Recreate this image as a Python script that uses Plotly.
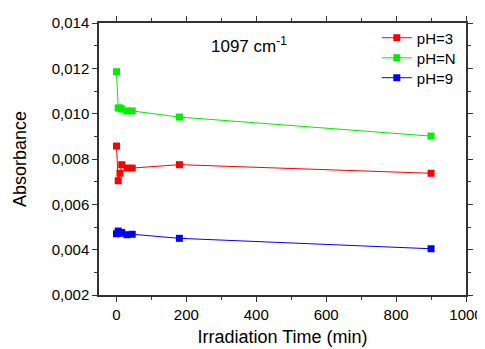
import plotly.graph_objects as go

time_min = [0, 5, 10, 15, 30, 45, 180, 900]
ph3 = [0.00857, 0.00704, 0.00737, 0.00775, 0.00760, 0.00760, 0.00775, 0.00737]
phN = [0.01185, 0.01025, 0.01025, 0.01020, 0.01012, 0.01012, 0.00985, 0.00901]
ph9 = [0.00470, 0.00482, 0.00472, 0.00476, 0.00466, 0.00468, 0.00450, 0.00404]

series = [("pH=3", ph3, "#ff0000", "legend"),
          ("pH=N", phN, "#00ee00", "legend2"),
          ("pH=9", ph9, "#0000ff", "legend3")]

fig = go.Figure()
for name, vals, col, leg in series:
    fig.add_trace(go.Scatter(
        x=time_min, y=vals, name=name, mode="lines+markers", legend=leg,
        showlegend=True,
        line=dict(color=col, width=1),
        marker=dict(symbol="square", size=7, color=col),
    ))

font = "Liberation Sans, Arial, sans-serif"
axis_common = dict(
    showline=True, linecolor="#333", linewidth=1.5, mirror="ticks",
    ticks="outside", ticklen=5, tickwidth=1, tickcolor="#333",
    showgrid=False, zeroline=False, automargin=False,
    tickfont=dict(family=font, size=15, color="#000"),
)
leg_common = dict(x=0.757, xanchor="left", yanchor="middle", bgcolor="rgba(0,0,0,0)",
                  font=dict(size=15), itemwidth=30)
fig.update_layout(
    width=485, height=349,
    showlegend=True,
    margin=dict(l=91, r=27, t=15, b=62, autoexpand=False),
    paper_bgcolor="white", plot_bgcolor="white",
    separators=",.",
    font=dict(family=font, color="#000"),
    xaxis=dict(range=[-50, 1000], tickvals=[0, 200, 400, 600, 800, 1000],
               minor=dict(tickvals=[100, 300, 500, 700, 900], ticks="outside", ticklen=3, tickcolor="#333"),
               title=dict(text="Irradiation Time (min)", font=dict(size=18), standoff=9),
               **axis_common),
    yaxis=dict(range=[0.002, 0.014], tickvals=[0.002, 0.004, 0.006, 0.008, 0.010, 0.012, 0.014],
               tickformat=".3f",
               minor=dict(tickvals=[0.003, 0.005, 0.007, 0.009, 0.011, 0.013], ticks="outside", ticklen=3, tickcolor="#333"),
               title=dict(text="Absorbance", font=dict(size=18), standoff=20),
               **axis_common),
    legend=dict(y=0.945, **leg_common),
    legend2=dict(y=0.871, **leg_common),
    legend3=dict(y=0.798, **leg_common),
    annotations=[dict(text="1097 cm<sup>-1</sup>", x=0.41, y=0.919, xref="paper", yref="paper",
                      showarrow=False, font=dict(size=17), xanchor="center", yanchor="middle")],
)
fig.write_html("out.html")
